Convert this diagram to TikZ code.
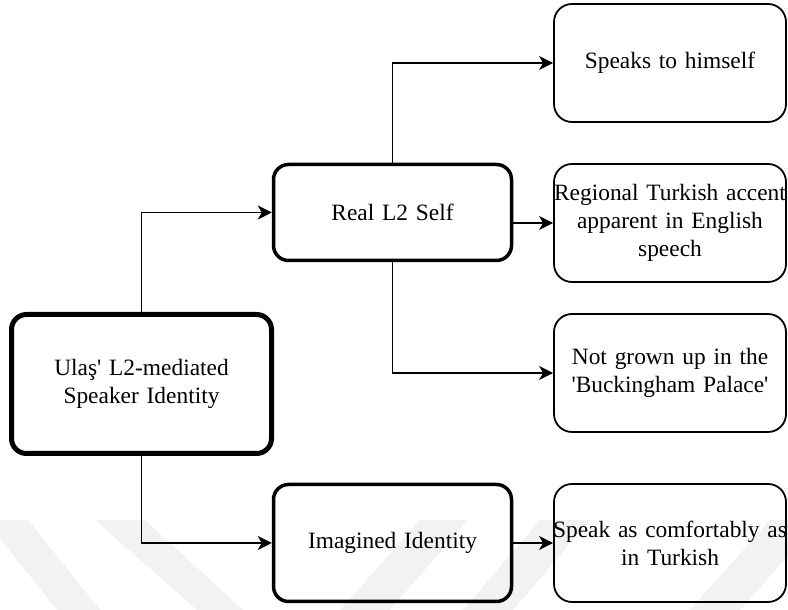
\documentclass[tikz,border=0pt]{standalone}
\usepackage{fontspec}
\setmainfont{Liberation Serif}[Ligatures=TeXOff]
\usetikzlibrary{arrows.meta}
% a line centred on the text width, overhanging both sides equally when too long
\newcommand{\wideline}[1]{\makebox[\linewidth][c]{#1}}
\begin{document}
\begin{tikzpicture}[x=1pt,y=1pt,
  box/.style={draw=black, rounded corners=15pt, inner sep=0pt, align=center,
    font=\fontsize{23.4}{28}\selectfont},
  rootbox/.style={box, line width=5pt, minimum width=260pt, minimum height=139pt, text width=256pt},
  midbox/.style={box, line width=3.5pt, minimum width=238pt, text width=234pt},
  leafbox/.style={box, line width=1.8pt, rounded corners=18pt, minimum width=232pt,
    minimum height=118pt, text width=230pt},
  link/.style={line width=1.5pt, -{Stealth[length=14pt,width=14pt,inset=4pt]}},
  wmstrip/.style={fill=black!5, draw=none}
]
\useasboundingbox (0,0) rectangle (788,610);

% faint diagonal strips along the bottom edge
\fill[wmstrip] (-15,90) -- (28,90) -- (100,0) -- (57,0) -- cycle;
\fill[wmstrip] (95,90) -- (145,90) -- (243,0) -- (197,0) -- cycle;
\fill[wmstrip] (420,90) -- (468,90) -- (390,0) -- (340,0) -- cycle;
\fill[wmstrip] (540,90) -- (590,90) -- (513,0) -- (463,0) -- cycle;
\fill[wmstrip] (770,90) -- (820,90) -- (740,0) -- (690,0) -- cycle;

% boxes
\node[rootbox] (root) at (141.5,226) {Ulaş' L2-mediated\\Speaker Identity};
\node[midbox, minimum height=96pt] (real) at (392.5,397.5) {Real L2 Self};
\node[midbox, minimum height=117pt] (imag) at (392.5,67) {Imagined Identity};
\node[leafbox] (speaks) at (670,547) {Speaks to himself};
\node[leafbox] (accent) at (670,387) {\wideline{Regional Turkish accent}\\apparent in English\\speech};
\node[leafbox] (palace) at (670,237) {Not grown up in the\\'Buckingham Palace'};
\node[leafbox] (comfort) at (670,67) {\wideline{Speak as comfortably as}\\in Turkish};

% connectors
\draw[link] (root.north) |- (real.west);
\draw[link] (root.south) |- (imag.west);
\draw[link] (real.north) |- (speaks.west);
\draw[link] (real.south) |- (palace.west);
\draw[link] (accent.west -| real.east) -- (accent.west);
\draw[link] (imag.east) -- (comfort.west);
\end{tikzpicture}
\end{document}
